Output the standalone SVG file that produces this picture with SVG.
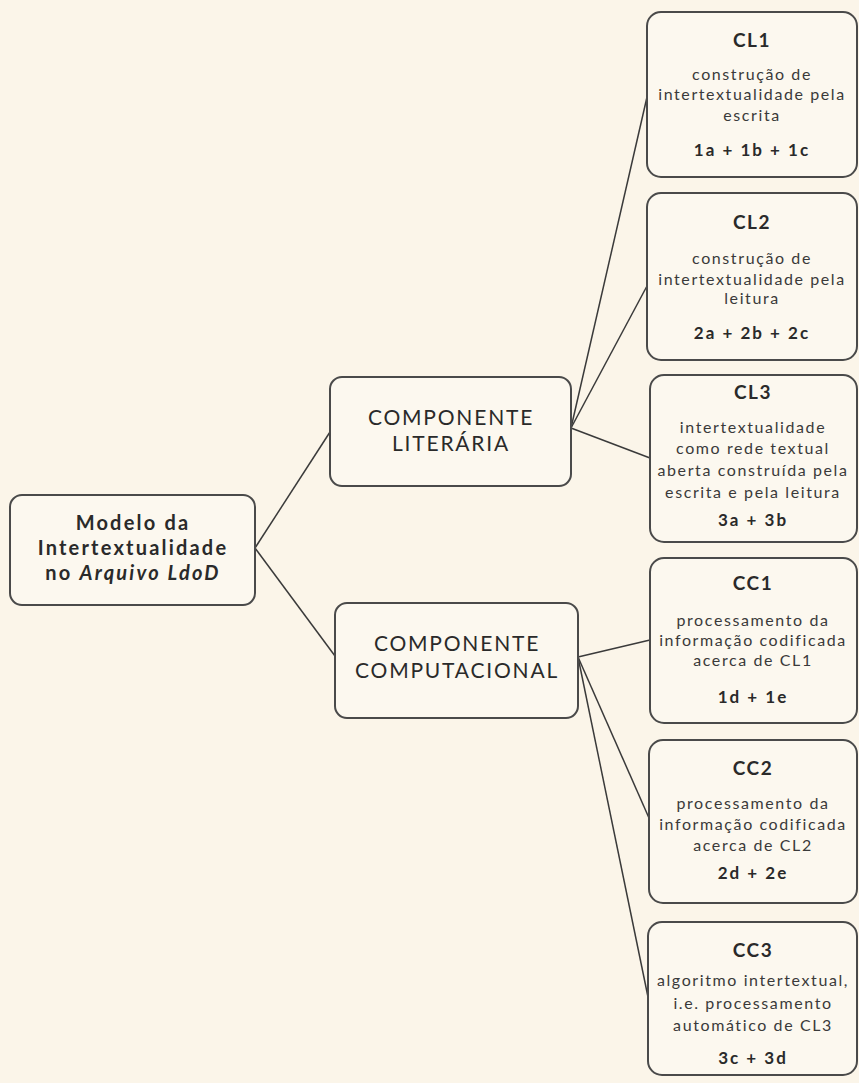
<svg xmlns="http://www.w3.org/2000/svg" width="859" height="1083" viewBox="0 0 859 1083">
<style>
.bg{fill:#fbf5e9}
.box{fill:#fcf8ef;stroke:#4a4a4a;stroke-width:2}
.ln{stroke:#3a3a3a;stroke-width:1.5;fill:none}
text{font-family:Lato,"Open Sans","DejaVu Sans",sans-serif;fill:#2a2a2a;text-anchor:middle}
.root{font-size:20px;font-weight:bold;letter-spacing:2.2px}
.mid{font-size:21px;letter-spacing:1.8px}
.t{font-size:19px;font-weight:bold;letter-spacing:1.5px}
.b{font-size:16px;letter-spacing:1.6px;fill:#3a3a3a}
.f{font-size:17px;font-weight:bold;letter-spacing:2px}
</style>
<rect class="bg" x="0" y="0" width="859" height="1083"/>
<g id="connectors">
<line class="ln" x1="255" y1="548" x2="330" y2="432"/>
<line class="ln" x1="255" y1="548" x2="335" y2="656"/>
<line class="ln" x1="571" y1="428" x2="647" y2="97"/>
<line class="ln" x1="571" y1="428" x2="647" y2="286"/>
<line class="ln" x1="571" y1="428" x2="650" y2="458"/>
<line class="ln" x1="578" y1="657" x2="650" y2="640"/>
<line class="ln" x1="578" y1="657" x2="649" y2="818"/>
<line class="ln" x1="578" y1="657" x2="648" y2="997"/>
</g>
<g id="root">
<rect class="box" x="10" y="495" width="245" height="110" rx="12"/>
<text class="root" x="133" y="530">Modelo da</text>
<text class="root" x="133" y="555">Intertextualidade</text>
<text class="root" x="133" y="580">no <tspan font-style="italic">Arquivo LdoD</tspan></text>
</g>
<g id="lit">
<rect class="box" x="330" y="377" width="241" height="109" rx="12"/>
<text class="mid" x="451" y="425">COMPONENTE</text>
<text class="mid" x="451" y="451">LITERÁRIA</text>
</g>
<g id="comp">
<rect class="box" x="335" y="603" width="243" height="115" rx="12"/>
<text class="mid" x="457" y="651">COMPONENTE</text>
<text class="mid" x="457" y="678">COMPUTACIONAL</text>
</g>
<g id="cl1">
<rect class="box" x="647" y="12" width="210" height="165" rx="14"/>
<text class="t" x="752" y="47">CL1</text>
<text class="b" x="752" y="80">construção de</text>
<text class="b" x="752" y="100">intertextualidade pela</text>
<text class="b" x="752" y="121">escrita</text>
<text class="f" x="752" y="156">1a + 1b + 1c</text>
</g>
<g id="cl2">
<rect class="box" x="647" y="193" width="210" height="167" rx="14"/>
<text class="t" x="752" y="229">CL2</text>
<text class="b" x="752" y="264">construção de</text>
<text class="b" x="752" y="285">intertextualidade pela</text>
<text class="b" x="752" y="304">leitura</text>
<text class="f" x="752" y="339">2a + 2b + 2c</text>
</g>
<g id="cl3">
<rect class="box" x="650" y="375" width="207" height="167" rx="14"/>
<text class="t" x="753" y="399">CL3</text>
<text class="b" x="753" y="433">intertextualidade</text>
<text class="b" x="753" y="454">como rede textual</text>
<text class="b" x="753" y="476">aberta construída pela</text>
<text class="b" x="753" y="498">escrita e pela leitura</text>
<text class="f" x="753" y="526">3a + 3b</text>
</g>
<g id="cc1">
<rect class="box" x="650" y="558" width="207" height="165" rx="14"/>
<text class="t" x="753" y="590">CC1</text>
<text class="b" x="753" y="626">processamento da</text>
<text class="b" x="753" y="646">informação codificada</text>
<text class="b" x="753" y="666">acerca de CL1</text>
<text class="f" x="753" y="703">1d + 1e</text>
</g>
<g id="cc2">
<rect class="box" x="649" y="740" width="208" height="163" rx="14"/>
<text class="t" x="753" y="775">CC2</text>
<text class="b" x="753" y="809">processamento da</text>
<text class="b" x="753" y="830">informação codificada</text>
<text class="b" x="753" y="851">acerca de CL2</text>
<text class="f" x="753" y="879">2d + 2e</text>
</g>
<g id="cc3">
<rect class="box" x="648" y="922" width="209" height="153" rx="14"/>
<text class="t" x="753" y="957">CC3</text>
<text class="b" x="753" y="986">algoritmo intertextual,</text>
<text class="b" x="753" y="1009">i.e. processamento</text>
<text class="b" x="753" y="1031">automático de CL3</text>
<text class="f" x="753" y="1064">3c + 3d</text>
</g>
</svg>
